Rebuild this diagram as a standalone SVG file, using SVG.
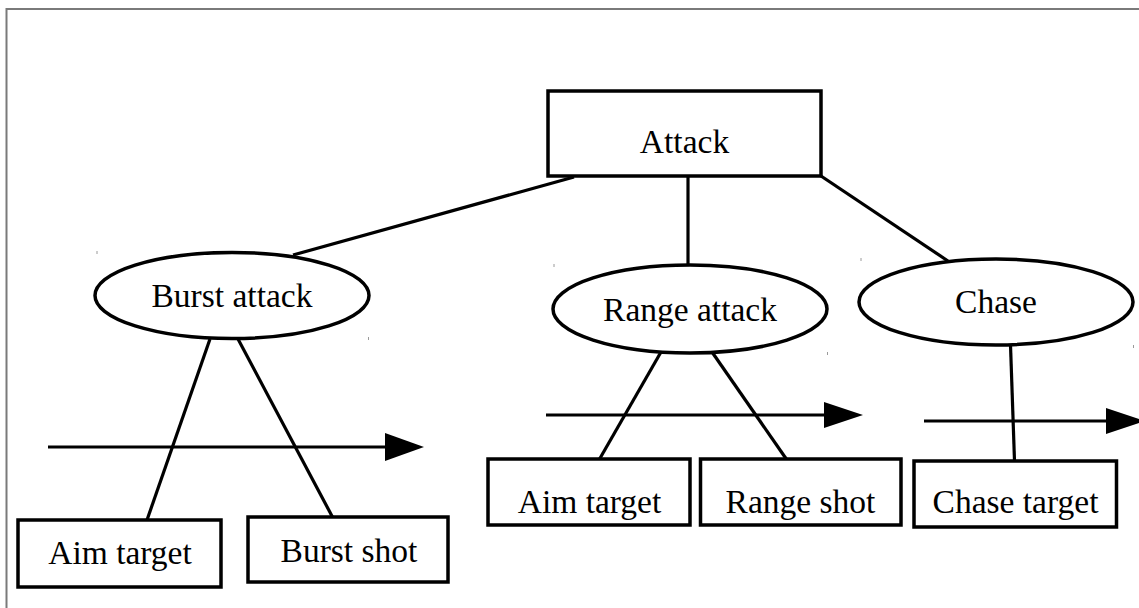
<svg xmlns="http://www.w3.org/2000/svg" width="1139" height="608" viewBox="0 0 1139 608">
  <style>
    .frame { stroke: #7a7a7a; stroke-width: 2; fill: none; }
    .box { fill: #ffffff; stroke: #000000; stroke-width: 3.5; }
    .oval { fill: #ffffff; stroke: #000000; stroke-width: 3.5; }
    .link { stroke: #000000; stroke-width: 3.2; fill: none; }
    .flow { stroke: #000000; stroke-width: 3.2; fill: none; }
    .head { fill: #000000; stroke: none; }
    .tick { stroke: #9a9a9a; stroke-width: 1; }
    .label { font-family: "Liberation Serif", "Times New Roman", serif; font-size: 33.5px; fill: #000000; text-anchor: middle; }
  </style>

  <rect x="0" y="0" width="1139" height="608" fill="#ffffff"/>

  <!-- page frame -->
  <path class="frame" d="M6.5,608 V9 H1139"/>

  <!-- connectors -->
  <g id="connectors">
    <line class="link" x1="574" y1="177" x2="293" y2="255"/>
    <line class="link" x1="688" y1="177" x2="688" y2="266"/>
    <line class="link" x1="821" y1="176" x2="948" y2="261"/>

    <line class="link" x1="210" y1="339" x2="147" y2="520"/>
    <line class="link" x1="238" y1="339" x2="333" y2="518"/>

    <line class="link" x1="661" y1="352" x2="599" y2="460"/>
    <line class="link" x1="712" y1="352" x2="787" y2="460"/>

    <line class="link" x1="1010.5" y1="345" x2="1014.5" y2="461"/>

    <!-- time-flow arrows -->
    <line class="flow" x1="48" y1="447" x2="388" y2="447"/>
    <polygon class="head" points="385,433 424,447 385,461"/>

    <line class="flow" x1="546" y1="415" x2="826" y2="415"/>
    <polygon class="head" points="824,402 863,415 824,428"/>

    <line class="flow" x1="924" y1="421" x2="1108" y2="421"/>
    <polygon class="head" points="1106,408 1145,421 1106,434"/>
  </g>

  <!-- small bounding marks around the ovals -->
  <g id="marks">
    <line class="tick" x1="97" y1="251" x2="97" y2="254"/>
    <line class="tick" x1="368.5" y1="337" x2="368.5" y2="340"/>
    <line class="tick" x1="554" y1="264" x2="554" y2="267"/>
    <line class="tick" x1="827.5" y1="352" x2="827.5" y2="355"/>
    <line class="tick" x1="861" y1="258" x2="861" y2="261"/>
    <line class="tick" x1="1133.5" y1="345" x2="1133.5" y2="348"/>
  </g>

  <g id="attack">
    <rect class="box" x="548" y="91" width="273" height="85"/>
    <text class="label" x="684.5" y="152.5">Attack</text>
  </g>

  <g id="burst-attack">
    <ellipse class="oval" cx="232" cy="295.5" rx="137" ry="43"/>
    <text class="label" x="232" y="307">Burst attack</text>
  </g>

  <g id="range-attack">
    <ellipse class="oval" cx="690" cy="309" rx="137" ry="44"/>
    <text class="label" x="690" y="320.5">Range attack</text>
  </g>

  <g id="chase">
    <ellipse class="oval" cx="996" cy="302" rx="137" ry="43"/>
    <text class="label" x="996" y="313">Chase</text>
  </g>

  <g id="burst-aim-target">
    <rect class="box" x="18" y="520" width="203" height="67"/>
    <text class="label" x="120" y="564">Aim target</text>
  </g>

  <g id="burst-shot">
    <rect class="box" x="248" y="517" width="200" height="65"/>
    <text class="label" x="349" y="562">Burst shot</text>
  </g>

  <g id="range-aim-target">
    <rect class="box" x="488" y="459" width="202" height="66"/>
    <text class="label" x="589.5" y="512.5">Aim target</text>
  </g>

  <g id="range-shot">
    <rect class="box" x="700.5" y="459" width="200.5" height="66"/>
    <text class="label" x="800.5" y="512.5">Range shot</text>
  </g>

  <g id="chase-target">
    <rect class="box" x="914" y="461" width="202.5" height="66"/>
    <text class="label" x="1015.5" y="513">Chase target</text>
  </g>
</svg>
